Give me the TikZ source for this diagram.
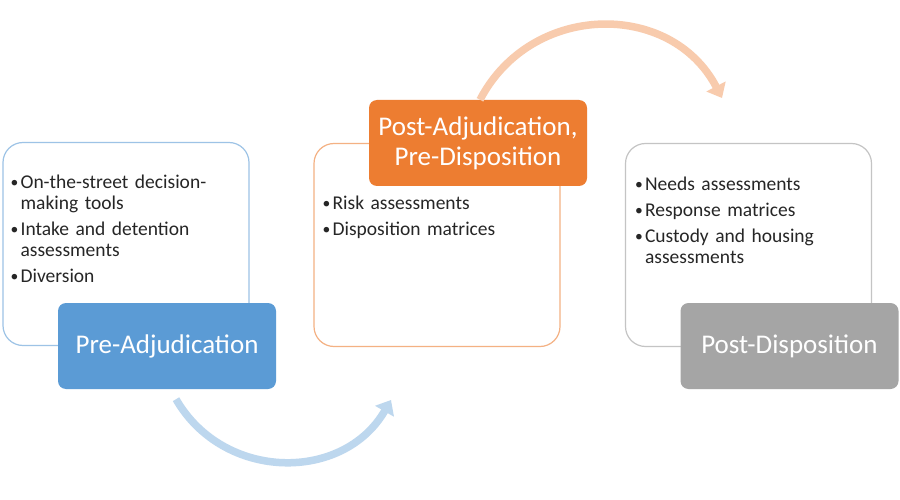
\documentclass[tikz,border=0pt]{standalone}
\usepackage{fontspec}
\setmainfont{Carlito}
\usetikzlibrary{arrows.meta,positioning}

\definecolor{blueline}{HTML}{9DC3E6}
\definecolor{orangeline}{HTML}{F4B183}
\definecolor{grayline}{HTML}{C4C4C4}
\definecolor{bluefill}{HTML}{5B9BD5}
\definecolor{orangefill}{HTML}{ED7D31}
\definecolor{grayfill}{HTML}{A5A5A5}
\definecolor{bluearrow}{HTML}{BDD7EE}
\definecolor{orangearrow}{HTML}{F8CBAD}
\definecolor{listtext}{HTML}{262626}

\newcommand{\bul}{\makebox[10pt][l]{\raisebox{1pt}{\scalebox{0.8}{\textbullet}}}}
\newcommand{\ind}{\hspace*{10pt}}

\tikzset{
  stagebox/.style={draw, line width=1.2pt, fill=white, rounded corners=20pt,
    minimum width=246pt, minimum height=203pt, inner sep=0pt},
  stagelabel/.style={rounded corners=8pt, minimum width=218pt, minimum height=86pt,
    inner sep=0pt, text=white, align=center, font=\fontsize{27}{30}\selectfont},
  itemlist/.style={anchor=base west, inner sep=0pt, text width=235pt, align=left,
    text=listtext, font=\fontsize{19.5}{21}\selectfont},
  flow/.style={line width=7.5pt, -{Triangle[width=21pt,length=13pt]}}
}

\begin{document}
\begin{tikzpicture}[x=1pt,y=-1pt]
            \useasboundingbox[fill=white] (0,0) rectangle (900,500);
            % stage boxes
            \node[stagebox, draw=blueline] (prebox) at (126,244) {};
            \node[stagebox, draw=orangeline] (midbox) at (437,245) {};
            \node[stagebox, draw=grayline] (postbox) at (748.5,245) {};
            % lists
            \node[itemlist] (prelist) at ([xshift=8pt,yshift=-47pt]prebox.north west)
              {\bul On-the-street decision-\\ \ind making tools\\[5pt]
               \bul Intake and detention\\ \ind assessments\\[5pt]
               \bul Diversion};
            \node[itemlist] (midlist) at ([xshift=9pt,yshift=-67pt]midbox.north west)
              {\bul Risk assessments\\[5pt]
               \bul Disposition matrices};
            \node[itemlist] (postlist) at ([xshift=10pt,yshift=-48pt]postbox.north west)
              {\bul Needs assessments\\[5pt]
               \bul Response matrices\\[5pt]
               \bul Custody and housing\\ \ind assessments};
            % stage labels
            \node[stagelabel, fill=bluefill] (prelab) at (167,346) {Pre-Adjudication};
            \node[stagelabel, fill=orangefill] (midlab) at (478,143) {Post-Adjudication,\\Pre-Disposition};
            \node[stagelabel, fill=grayfill] (postlab) at (789.5,346) {Post-Disposition};
            % arrows
            \coordinate (bluetip) at (391,400);
            \coordinate (orangetip) at (722,98);
            \draw[flow, bluearrow] ([xshift=9pt,yshift=-10pt]prelab.south)
              to[out=-60,in=240,looseness=1.13] (bluetip);
            \draw[flow, orangearrow] ([xshift=2pt]midlab.north)
              to[out=62.5,in=117.5,looseness=1.165] (orangetip);
\end{tikzpicture}
\end{document}
